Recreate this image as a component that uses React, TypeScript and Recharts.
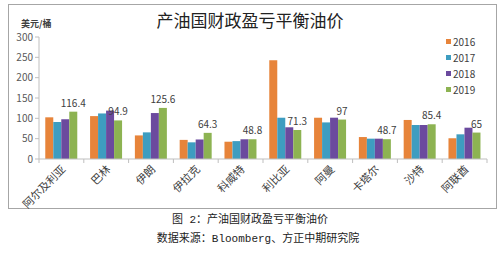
import { BarChart, Bar, XAxis, YAxis, LabelList } from 'recharts'

const countries = ['阿尔及利亚', '巴林', '伊朗', '伊拉克', '科威特', '利比亚', '阿曼', '卡塔尔', '沙特', '阿联酋']
const y2016 = [102.5, 105.5, 58, 47, 42.5, 243, 101.5, 54, 96, 51]
const y2017 = [91, 112, 65.5, 41, 44, 101.5, 90, 50, 83.6, 60.7]
const y2018 = [98, 119, 113, 48, 48.5, 78, 101.6, 50, 83.6, 77]
const y2019 = [116.4, 94.9, 125.6, 64.3, 48.8, 71.3, 97, 48.7, 85.4, 65]
const yTicks = [0, 50, 100, 150, 200, 250, 300]

const series = [
  { key: 'y2016', name: '2016', color: '#E7843A' },
  { key: 'y2017', name: '2017', color: '#3E9DC0' },
  { key: 'y2018', name: '2018', color: '#6B4A9E' },
  { key: 'y2019', name: '2019', color: '#8DB352' },
]

const data = countries.map((c, i) => ({
  country: c,
  y2016: y2016[i],
  y2017: y2017[i],
  y2018: y2018[i],
  y2019: y2019[i],
}))

const CHART_W = 500
const PLOT_LEFT = 39
const PLOT_RIGHT = 13
const band = (CHART_W - PLOT_LEFT - PLOT_RIGHT) / countries.length

const CountryTick = ({ x, y, payload, index }: any) => (
  <g>
    <line x1={x - band / 2} y1={y - 8} x2={x - band / 2} y2={y - 4} stroke="#bfbfbf" />
    {index === countries.length - 1 && (
      <line x1={x + band / 2} y1={y - 8} x2={x + band / 2} y2={y - 4} stroke="#bfbfbf" />
    )}
    <text
      x={x + 5}
      y={y + 3}
      transform={`rotate(-45, ${x + 5}, ${y + 3})`}
      textAnchor="end"
      fontSize={11}
      fill="#404040"
      fontFamily="'Noto Sans CJK SC', sans-serif"
    >
      {payload.value}
    </text>
  </g>
)

export default function App() {
  return (
    <div
      style={{
        position: 'absolute',
        left: 0,
        top: 0,
        width: 500,
        height: 253,
        background: '#fff',
        fontFamily: "'Noto Sans CJK SC', sans-serif",
      }}
    >
      <div
        style={{
          position: 'absolute',
          left: 8,
          top: 4,
          width: 487,
          height: 203,
          border: '1px solid #a6a6a6',
        }}
      />
      <div style={{ position: 'absolute', left: 0, width: 500, top: 8, textAlign: 'center', fontSize: 17, color: '#222', lineHeight: '24px' }}>
        产油国财政盈亏平衡油价
      </div>
      <div style={{ position: 'absolute', left: 21, top: 17, fontSize: 9, fontWeight: 700, color: '#404040' }}>
        美元/桶
      </div>
      <div style={{ position: 'absolute', left: 0, top: 0 }}>
        <BarChart
          width={CHART_W}
          height={210}
          data={data}
          margin={{ top: 37, right: PLOT_RIGHT, left: 0, bottom: 0 }}
          barGap={0}
          barCategoryGap="14%"
        >
          <XAxis
            dataKey="country"
            interval={0}
            height={51}
            axisLine={{ stroke: '#bfbfbf' }}
            tickLine={false}
            tick={<CountryTick />}
          />
          <YAxis
            domain={[0, 300]}
            ticks={yTicks}
            width={PLOT_LEFT}
            axisLine={{ stroke: '#bfbfbf' }}
            tickLine={{ stroke: '#bfbfbf' }}
            tickSize={4}
            tick={{ fontSize: 10, fill: '#595959' }}
          />
          {series.map((s) => (
            <Bar key={s.key} dataKey={s.key} name={s.name} fill={s.color} isAnimationActive={false}>
              {s.key === 'y2019' && (
                <LabelList dataKey="y2019" position="top" offset={5} fontSize={10} fill="#404040" />
              )}
            </Bar>
          ))}
        </BarChart>
      </div>
      <div style={{ position: 'absolute', left: 446, top: 33 }}>
        {series.map((s) => (
          <div key={s.key} style={{ display: 'flex', alignItems: 'center', height: 16, fontSize: 10, color: '#404040' }}>
            <span style={{ width: 5, height: 5, background: s.color, marginRight: 2 }} />
            {s.name}
          </div>
        ))}
      </div>
      <div style={{ position: 'absolute', left: 0, width: 500, top: 212, textAlign: 'center', fontSize: 11, color: '#222', lineHeight: '16px', fontFamily: "'Liberation Mono', 'Noto Sans CJK SC', monospace" }}>
        图 2：产油国财政盈亏平衡油价
      </div>
      <div style={{ position: 'absolute', left: 8, width: 500, top: 231, textAlign: 'center', fontSize: 11, color: '#222', lineHeight: '16px', fontFamily: "'Liberation Mono', 'Noto Sans CJK SC', monospace" }}>
        数据来源：Bloomberg、方正中期研究院
      </div>
    </div>
  )
}
